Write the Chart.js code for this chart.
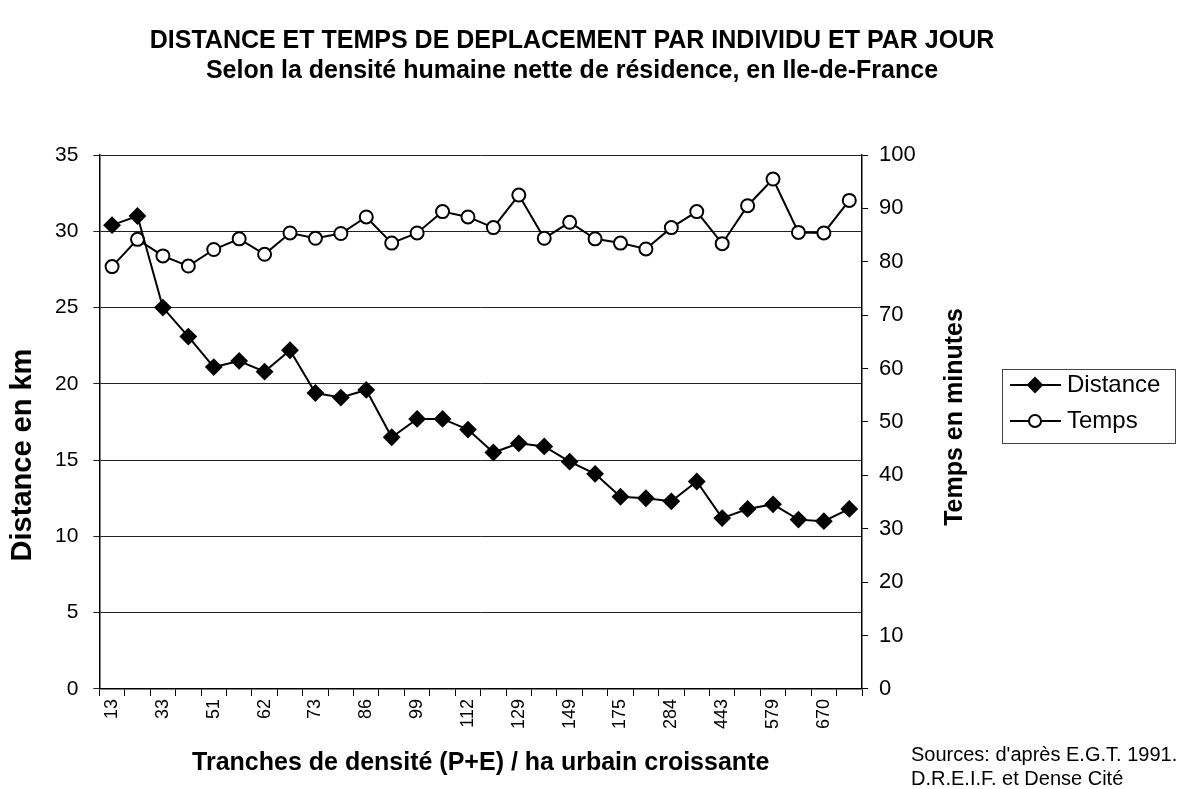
<!DOCTYPE html>
<html lang="fr">
<head>
    <meta charset="UTF-8">
    <title>Distance et temps de déplacement</title>
    <script src="https://cdn.jsdelivr.net/npm/chart.js"></script>
    <style>
        * { box-sizing: border-box; margin: 0; padding: 0; }
        body { background: #fff; }
        .wrap { width: 1181px; height: 789px; position: relative; }
    </style>
</head>
<body>
    <div class="wrap">
        <canvas id="chart"></canvas>
    </div>

    <script>
        // Tranches de densité (every other category is labelled in the original)
        const densityLabels = ['13', '', '33', '', '51', '', '62', '', '73', '', '86', '', '99', '', '112', '',
                               '129', '', '149', '', '175', '', '284', '', '443', '', '579', '', '670', ''];
        // Distance en km
        const distanceKm = [30.4, 31.0, 25.0, 23.1, 21.1, 21.5, 20.8, 22.2, 19.4, 19.1, 19.6, 16.5, 17.7, 17.7, 17.0,
                            15.5, 16.1, 15.9, 14.9, 14.1, 12.6, 12.5, 12.3, 13.6, 11.2, 11.8, 12.1, 11.1, 11.0, 11.8];
        // Temps en minutes
        const tempsMin = [79.1, 84.2, 81.1, 79.2, 82.3, 84.3, 81.4, 85.4, 84.4, 85.3, 88.4, 83.5, 85.4, 89.4, 88.4,
                          86.4, 92.5, 84.4, 87.4, 84.3, 83.5, 82.4, 86.4, 89.4, 83.4, 90.5, 95.5, 85.5, 85.4, 91.5];
        const leftTicks = [0, 5, 10, 15, 20, 25, 30, 35];
        const rightTicks = [0, 10, 20, 30, 40, 50, 60, 70, 80, 90, 100];

        const FONT = 'Arial, "Liberation Sans", sans-serif';

        // axis titles (both read bottom to top), legend box and source note
        const extras = {
            id: 'extras',
            afterDraw(chart) {
                const ctx = chart.ctx;
                const area = chart.chartArea;
                ctx.save();
                ctx.fillStyle = '#000';
                ctx.textAlign = 'center';
                ctx.textBaseline = 'middle';

                ctx.font = 'bold 29px ' + FONT;
                ctx.translate(23, 455);
                ctx.rotate(-Math.PI / 2);
                ctx.fillText('Distance en km', 0, 0);
                ctx.setTransform(1, 0, 0, 1, 0, 0);

                ctx.font = 'bold 25px ' + FONT;
                ctx.translate(area.right + 93, 417);
                ctx.rotate(-Math.PI / 2);
                ctx.fillText('Temps en minutes', 0, 0);
                ctx.setTransform(1, 0, 0, 1, 0, 0);

                // legend
                const lx = 1002, ly = 369, lw = 173, lh = 74;
                ctx.strokeStyle = '#444';
                ctx.lineWidth = 1;
                ctx.strokeRect(lx + 0.5, ly + 0.5, lw, lh);
                chart.data.datasets.forEach((ds, i) => {
                    const cy = ly + 16 + i * 36;
                    ctx.strokeStyle = '#000';
                    ctx.lineWidth = 2;
                    ctx.beginPath();
                    ctx.moveTo(lx + 8, cy);
                    ctx.lineTo(lx + 59, cy);
                    ctx.stroke();
                    ctx.fillStyle = ds.pointBackgroundColor;
                    ctx.beginPath();
                    if (ds.pointStyle === 'rectRot') {
                        const r = 7;
                        ctx.moveTo(lx + 33, cy - r);
                        ctx.lineTo(lx + 33 + r, cy);
                        ctx.lineTo(lx + 33, cy + r);
                        ctx.lineTo(lx + 33 - r, cy);
                        ctx.closePath();
                    } else {
                        ctx.arc(lx + 33, cy, 6, 0, Math.PI * 2);
                    }
                    ctx.fill();
                    ctx.stroke();
                    ctx.fillStyle = '#000';
                    ctx.font = '24px ' + FONT;
                    ctx.textAlign = 'left';
                    ctx.fillText(ds.label, lx + 65, cy);
                });

                // source
                ctx.font = '20px ' + FONT;
                ctx.textAlign = 'left';
                ctx.fillText("Sources: d'après E.G.T. 1991.", 911, 755);
                ctx.fillText('D.R.E.I.F. et Dense Cité', 911, 779);
                ctx.restore();
            }
        };

        new Chart(document.getElementById('chart'), {
            type: 'line',
            data: {
                labels: densityLabels,
                datasets: [
                    {
                        label: 'Distance',
                        data: distanceKm,
                        yAxisID: 'y',
                        borderColor: '#000',
                        borderWidth: 2,
                        pointStyle: 'rectRot',
                        pointRadius: 7.5,
                        pointBackgroundColor: '#000',
                        pointBorderColor: '#000',
                        tension: 0
                    },
                    {
                        label: 'Temps',
                        data: tempsMin,
                        yAxisID: 'y2',
                        borderColor: '#000',
                        borderWidth: 2,
                        pointStyle: 'circle',
                        pointRadius: 6.5,
                        pointBorderWidth: 2,
                        pointBackgroundColor: '#fff',
                        pointBorderColor: '#000',
                        tension: 0
                    }
                ]
            },
            options: {
                responsive: true,
                maintainAspectRatio: false,
                animation: false,
                layout: { padding: { left: 40, right: 77, top: 0, bottom: 6 } },
                plugins: {
                    legend: { display: false },
                    tooltip: { enabled: false },
                    title: {
                        display: true,
                        text: 'DISTANCE ET TEMPS DE DEPLACEMENT PAR INDIVIDU ET PAR JOUR',
                        color: '#000',
                        font: { family: FONT, size: 25, weight: 'bold' },
                        padding: { top: 26, bottom: 0 }
                    },
                    subtitle: {
                        display: true,
                        text: 'Selon la densité humaine nette de résidence, en Ile-de-France',
                        color: '#000',
                        font: { family: FONT, size: 25, weight: 'bold' },
                        padding: { bottom: 69 }
                    }
                },
                scales: {
                    x: {
                        offset: true,
                        border: { color: '#000', width: 1.5 },
                        grid: { offset: true, drawOnChartArea: false, color: '#000', tickLength: 7 },
                        ticks: {
                            color: '#000',
                            autoSkip: false,
                            maxRotation: 90,
                            minRotation: 90,
                            font: { family: FONT, size: 18 }
                        },
                        title: {
                            display: true,
                            text: 'Tranches de densité (P+E) / ha urbain croissante',
                            color: '#000',
                            font: { family: FONT, size: 25, weight: 'bold' },
                            padding: { top: 16, bottom: 5 }
                        }
                    },
                    y: {
                        position: 'left',
                        min: 0,
                        max: 35,
                        afterBuildTicks: axis => { axis.ticks = leftTicks.map(v => ({ value: v })); },
                        border: { color: '#000', width: 1.5 },
                        grid: { color: '#222', lineWidth: 1, tickLength: 6 },
                        ticks: { color: '#000', padding: 15, font: { family: FONT, size: 21 } }
                    },
                    y2: {
                        position: 'right',
                        min: 0,
                        max: 100,
                        afterBuildTicks: axis => { axis.ticks = rightTicks.map(v => ({ value: v })); },
                        // leave room for the rotated title and the legend
                        afterFit: axis => { axis.width = 242; },
                        border: { color: '#000', width: 1.5 },
                        grid: { drawOnChartArea: false, color: '#000', tickLength: 6 },
                        ticks: { color: '#000', padding: 11, font: { family: FONT, size: 22 } }
                    }
                }
            },
            plugins: [extras]
        });
    </script>
</body>
</html>
